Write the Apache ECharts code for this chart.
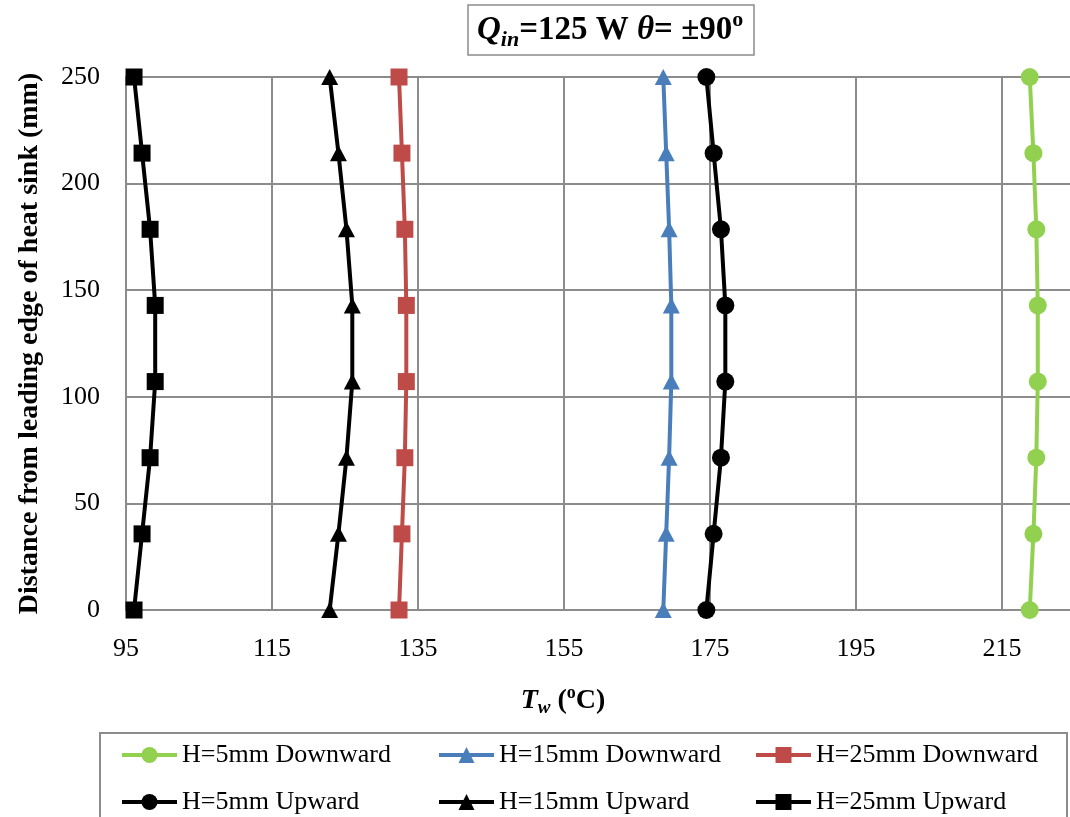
<!DOCTYPE html>
<html>
<head>
<meta charset="utf-8">
<script src="https://cdn.jsdelivr.net/npm/echarts@6/dist/echarts.min.js"></script>
<style>
  html, body { margin: 0; padding: 0; background: #ffffff; }
  #chart { width: 1070px; height: 817px; }
</style>
</head>
<body>
<div id="chart"></div>
<script>
// Distance from the leading edge of the heat sink (mm) at each thermocouple
const positions = [0, 35.71, 71.43, 107.14, 142.86, 178.57, 214.29, 250];

// Wall temperature T_w (°C) at each position
const h5Down  = [218.8, 219.3, 219.7, 219.9, 219.9, 219.7, 219.3, 218.8];
const h15Down = [168.6, 169.0, 169.4, 169.7, 169.7, 169.4, 169.0, 168.6];
const h25Down = [132.4, 132.8, 133.2, 133.4, 133.4, 133.2, 132.8, 132.4];
const h5Up    = [174.5, 175.5, 176.5, 177.1, 177.1, 176.5, 175.5, 174.5];
const h15Up   = [122.9, 124.1, 125.2, 126.0, 126.0, 125.2, 124.1, 122.9];
const h25Up   = [96.1, 97.2, 98.3, 99.0, 99.0, 98.3, 97.2, 96.1];

const seriesNames = [
  'H=5mm Downward', 'H=15mm Downward', 'H=25mm Downward',
  'H=5mm Upward', 'H=15mm Upward', 'H=25mm Upward'
];

const FONT = "'Liberation Serif', 'Times New Roman', serif";
const GRID_COLOR = '#8c8c8c';

function pairs(temps) {
  return temps.map((t, i) => [t, positions[i]]);
}

function makeSeries(name, temps, color, symbol, size) {
  return {
    name: name,
    type: 'line',
    data: pairs(temps),
    symbol: symbol,
    symbolSize: size,
    lineStyle: { color: color, width: 4 },
    itemStyle: { color: color },
    emphasis: { disabled: true },
    z: 3
  };
}

const chart = echarts.init(document.getElementById('chart'), null, { renderer: 'canvas' });

chart.setOption({
  animation: false,
  backgroundColor: '#ffffff',
  title: {
    text: '{q|Q}{sub|in}{t|=125 W }{th|θ}{t|= ±90}{sup|o}',
    left: 468,
    top: 5,
    padding: [4, 11, 4, 9],
    borderColor: '#8c8c8c',
    borderWidth: 1.5,
    textStyle: {
      rich: {
        q:   { fontFamily: FONT, fontSize: 33, fontWeight: 'bold', fontStyle: 'italic', color: '#000', lineHeight: 42 },
        sub: { fontFamily: FONT, fontSize: 22, fontWeight: 'bold', fontStyle: 'italic', color: '#000', lineHeight: 22, verticalAlign: 'bottom' },
        t:   { fontFamily: FONT, fontSize: 33, fontWeight: 'bold', color: '#000', lineHeight: 42 },
        th:  { fontFamily: FONT, fontSize: 33, fontWeight: 'bold', fontStyle: 'italic', color: '#000', lineHeight: 42 },
        sup: { fontFamily: FONT, fontSize: 22, fontWeight: 'bold', color: '#000', lineHeight: 24, verticalAlign: 'top' }
      }
    }
  },
  legend: {
    data: seriesNames,
    left: 100,
    top: 733,
    width: 945,
    padding: [7, 13, 30, 20],
    itemGap: 17,
    itemWidth: 55,
    itemHeight: 20,
    borderColor: '#8c8c8c',
    borderWidth: 2,
    selectedMode: false,
    lineStyle: { width: 4 },
    textStyle: {
      fontFamily: FONT,
      fontSize: 26,
      color: '#000',
      width: 238,
      lineHeight: 30
    }
  },
  grid: {
    left: 126,
    right: -78,
    top: 77,
    bottom: 207,
    containLabel: false,
    outerBoundsMode: 'none'
  },
  xAxis: {
    type: 'value',
    min: 95,
    max: 235,
    interval: 20,
    name: '{tv|T}{w|w}{p| (}{o|o}{p|C)}',
    nameLocation: 'middle',
    nameGap: 74,
    nameTextStyle: {
      padding: [0, 148, 0, 0],
      rich: {
        tv: { fontFamily: FONT, fontSize: 28, fontWeight: 'bold', fontStyle: 'italic', color: '#000', lineHeight: 34 },
        w:  { fontFamily: FONT, fontSize: 19, fontWeight: 'bold', fontStyle: 'italic', color: '#000', lineHeight: 20, verticalAlign: 'bottom' },
        p:  { fontFamily: FONT, fontSize: 28, fontWeight: 'bold', color: '#000', lineHeight: 34 },
        o:  { fontFamily: FONT, fontSize: 18, fontWeight: 'bold', color: '#000', lineHeight: 20, verticalAlign: 'top' }
      }
    },
    axisLine: { show: true, lineStyle: { color: GRID_COLOR, width: 2 } },
    axisTick: { show: false },
    axisLabel: { fontFamily: FONT, fontSize: 26, color: '#000', margin: 26 },
    splitLine: { show: true, lineStyle: { color: GRID_COLOR, width: 2 } }
  },
  yAxis: {
    type: 'value',
    min: 0,
    max: 250,
    interval: 50,
    name: 'Distance from leading edge of heat sink (mm)',
    nameLocation: 'middle',
    nameGap: 82,
    nameTextStyle: { fontFamily: FONT, fontSize: 28, fontWeight: 'bold', color: '#000' },
    axisLine: { show: true, lineStyle: { color: GRID_COLOR, width: 2 } },
    axisTick: { show: false },
    axisLabel: { fontFamily: FONT, fontSize: 26, color: '#000', margin: 26 },
    splitLine: { show: true, lineStyle: { color: GRID_COLOR, width: 2 } }
  },
  series: [
    makeSeries(seriesNames[0], h5Down,  '#92D050', 'circle',   18),
    makeSeries(seriesNames[1], h15Down, '#4A7EBB', 'triangle', [17, 16]),
    makeSeries(seriesNames[2], h25Down, '#BE4B48', 'rect',     17),
    makeSeries(seriesNames[3], h5Up,    '#000000', 'circle',   18),
    makeSeries(seriesNames[4], h15Up,   '#000000', 'triangle', [17, 16]),
    makeSeries(seriesNames[5], h25Up,   '#000000', 'rect',     17)
  ]
});
</script>
</body>
</html>
